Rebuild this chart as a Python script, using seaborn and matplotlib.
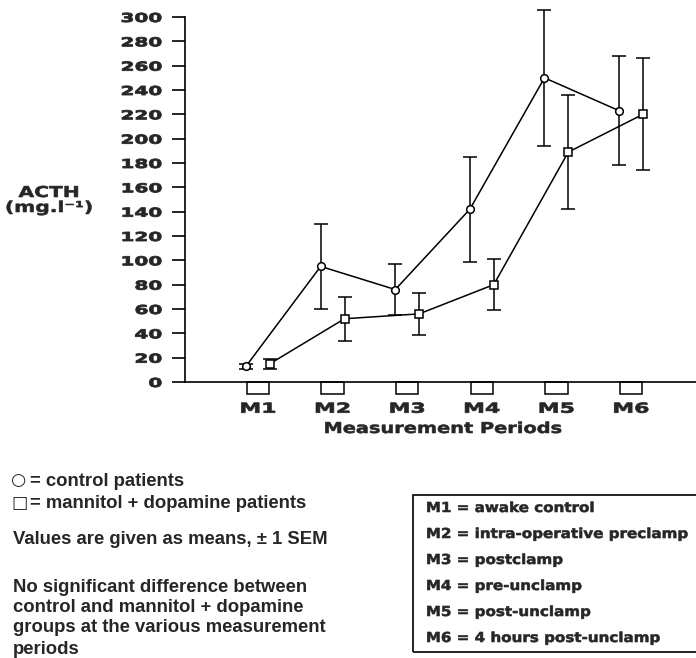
import numpy as np
import pandas as pd
import matplotlib
matplotlib.use("Agg")
import matplotlib.pyplot as plt
import seaborn as sns
from matplotlib import patheffects
from matplotlib.patches import Rectangle
from matplotlib.transforms import Affine2D, blended_transform_factory

# ---------------- data ----------------
periods = ["M1", "M2", "M3", "M4", "M5", "M6"]
control_mean = [13, 95, 76, 142, 250, 223]
control_sem = [2, 35, 21, 43, 56, 45]
mannitol_mean = [15, 52, 56, 80, 189, 220]
mannitol_sem = [4, 18, 17, 21, 47, 46]
groups = ["control", "mannitol + dopamine"]
yticks = [0, 20, 40, 60, 80, 100, 120, 140, 160, 180, 200, 220, 240, 260, 280, 300]
period_desc = [
    "M1 = awake control",
    "M2 = intra-operative preclamp",
    "M3 = postclamp",
    "M4 = pre-unclamp",
    "M5 = post-unclamp",
    "M6 = 4 hours post-unclamp",
]
legend_symbols = ["\u25cb", "\u25a1"]
legend_texts = ["= control patients", "= mannitol + dopamine patients"]
notes = [
    "Values are given as means, \u00b1 1 SEM",
    "No significant difference between",
    "control and mannitol + dopamine",
    "groups at the various measurement",
    "periods",
]


# horizontal stretch of glyphs (the original uses an extended typeface)
class HStretch(patheffects.AbstractPathEffect):
    def __init__(self, sx, anchor="left", stroke=0.0):
        super().__init__()
        self.sx = sx
        self.anchor = anchor
        self.stroke = stroke

    def draw_path(self, renderer, gc, tpath, affine, rgbFace=None):
        ext = tpath.get_extents(affine)
        if self.anchor == "right":
            a = ext.x1
        elif self.anchor == "center":
            a = 0.5 * (ext.x0 + ext.x1)
        else:
            a = ext.x0
        if not np.isfinite(a):
            a = 0.0
        new_aff = affine + Affine2D().translate(-a, 0).scale(self.sx, 1).translate(a, 0)
        gc0 = renderer.new_gc()
        gc0.copy_properties(gc)
        gc0.set_linewidth(self.stroke)
        if rgbFace is not None:
            gc0.set_foreground(rgbFace)
        renderer.draw_path(gc0, tpath, new_aff, rgbFace)
        gc0.restore()


sns.set_theme(style="white")
plt.rcParams["font.family"] = ["DejaVu Sans"]

W, H = 696, 658
fig = plt.figure(figsize=(W / 100, H / 100), dpi=100)
fig.patch.set_facecolor("white")

ax_left, ax_right, y0_px, y300_px = 185, 696, 382, 17
ax = fig.add_axes([ax_left / W, 1 - y0_px / H, (ax_right - ax_left) / W, (y0_px - y300_px) / H])
ax.set_facecolor("white")

idx = np.arange(len(periods))
offset = 0.16
df = pd.DataFrame({
    "x": np.concatenate([idx - offset, idx + offset]),
    "ACTH": control_mean + mannitol_mean,
    "sem": control_sem + mannitol_sem,
    "group": [groups[0]] * len(periods) + [groups[1]] * len(periods),
})

sns.lineplot(
    data=df, x="x", y="ACTH", hue="group", style="group",
    markers={groups[0]: "o", groups[1]: "s"}, dashes=False,
    palette={groups[0]: "black", groups[1]: "black"},
    markersize=5.5, markerfacecolor="white", markeredgecolor="black",
    markeredgewidth=1.1, linewidth=1.1, legend=False, ax=ax, zorder=3,
)

for g in groups:
    sub = df[df["group"] == g]
    cont = ax.errorbar(sub["x"], sub["ACTH"], yerr=sub["sem"], fmt="none",
                       ecolor="black", elinewidth=1.1, capsize=4.8, capthick=1.1, zorder=2)
    for art in cont.get_children():
        art.set_clip_on(False)

# hanging tick boxes below the x axis
btrans = blended_transform_factory(ax.transData, ax.transAxes)
box_h = 12 / (y0_px - y300_px)
for i in idx:
    ax.add_patch(Rectangle((i - 0.15, -box_h), 0.30, box_h, transform=btrans,
                           fill=False, edgecolor="black", linewidth=1.1, clip_on=False))

ax.set_xlim((ax_left - 258) / 74.6, (ax_right - 258) / 74.6)
ax.set_ylim(0, 300)

for s in ["top", "right"]:
    ax.spines[s].set_visible(False)
for s in ["left", "bottom"]:
    ax.spines[s].set_color("black")
    ax.spines[s].set_linewidth(1.2)

ax.set_yticks(yticks, labels=[str(v) for v in yticks], fontsize=8.9, fontweight="bold")
ax.set_xticks(idx, labels=periods, fontsize=9.9, fontweight="bold")
ax.tick_params(axis="y", direction="out", length=9.4, width=1.2, pad=7.2, color="black", left=True)
ax.tick_params(axis="x", length=0, pad=14.2)
for lbl in ax.get_yticklabels():
    lbl.set_path_effects([HStretch(1.62, "right", stroke=0.6)])
for lbl in ax.get_xticklabels():
    lbl.set_path_effects([HStretch(1.6, "center", stroke=0.5)])

ax.set_xlabel("Measurement Periods", fontsize=10.8, fontweight="bold")
ax.xaxis.set_label_coords((443 - ax_left) / (ax_right - ax_left), (y0_px - 421) / (y0_px - y300_px))
ax.xaxis.label.set_path_effects([HStretch(1.29, "center", stroke=0.4)])

ax.set_ylabel("ACTH\n(mg.l\u207b\u00b9)", fontsize=10.8, fontweight="bold", rotation=0,
              ha="center", va="center", multialignment="center", linespacing=1.0)
ax.yaxis.set_label_coords((49 - ax_left) / (ax_right - ax_left), (y0_px - 200) / (y0_px - y300_px))
ax.yaxis.label.set_path_effects([HStretch(1.35, "center", stroke=0.4)])

# legend lines and notes on the left
sym_dy = [-2, 0]
for sym, txt, yy, dy in zip(legend_symbols, legend_texts, [482, 503], sym_dy):
    fig.text(11 / W, 1 - (yy + dy) / H, sym, fontsize=12.5, family=["DejaVu Sans"],
             ha="left", va="center")
    fig.text(30 / W, 1 - yy / H, txt, fontsize=13.3, fontweight="bold",
             family=["Liberation Sans", "DejaVu Sans"], ha="left", va="center")
note_y = [540, 588, 608, 628, 650]
for txt, yy in zip(notes, note_y):
    fig.text(13 / W, 1 - yy / H, txt, fontsize=13.3, fontweight="bold",
             family=["Liberation Sans", "DejaVu Sans"], ha="left", va="center")

# boxed period key
fig.patches.append(Rectangle((413 / W, 1 - 652 / H), (W + 10 - 413) / W, (652 - 495) / H,
                             transform=fig.transFigure, fill=False, edgecolor="black",
                             linewidth=1.2, figure=fig))
for k, txt in enumerate(period_desc):
    t = fig.text(426 / W, 1 - (508 + 26 * k) / H, txt, fontsize=9.9, fontweight="bold",
                 ha="left", va="center")
    t.set_path_effects([HStretch(1.1, "left", stroke=0.4)])

fig.savefig("out.png", dpi=100, facecolor="white")
